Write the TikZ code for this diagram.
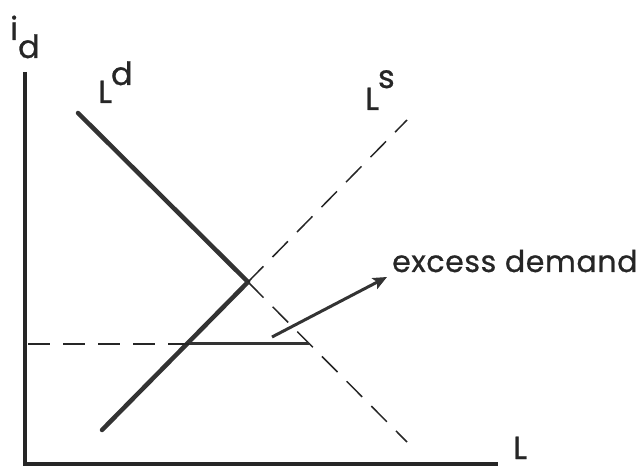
\documentclass[tikz,border=0pt]{standalone}
\usepackage{fontspec}
\setmainfont[FakeBold=0.8]{Poppins}
\usetikzlibrary{arrows.meta}
\begin{document}
\begin{tikzpicture}[x=1pt,y=-1pt,
  axis/.style={line width=4pt, draw=black!85},
  curve/.style={line width=4.5pt, line cap=round, draw=black!80},
  dashline/.style={line width=1.5pt, dash pattern=on 22pt off 13pt, draw=black!85},
  gapline/.style={line width=3pt, draw=black!80},
  arr/.style={line width=3pt, draw=black!80, -{Stealth[length=14pt,width=12pt,inset=3pt]}},
  lab/.style={font=\fontsize{32}{32}\selectfont, inner sep=0pt, text=black!85},
  sublab/.style={font=\fontsize{30}{30}\selectfont\addfontfeature{LetterSpace=2}, inner sep=0pt, text=black!85},
]
\useasboundingbox (0,0) rectangle (641,468);
\coordinate (ytop) at (25,72);
\coordinate (o) at (25,464);
\coordinate (xend) at (498,464);
\coordinate (ldtop) at (78,113);
\coordinate (k) at (248,282);
\coordinate (ldbot) at (407,442);
\coordinate (lsbot) at (102,430);
\coordinate (lstop) at (407,120);
\coordinate (hl) at (28,344);
\coordinate (hs) at (189,344);
\coordinate (he) at (309,344);
\coordinate (a1) at (272,337);
\coordinate (a2) at (387,277);
% axes
\draw[axis] (ytop) -- (o) -- (xend);
% demand and supply
\draw[curve] (ldtop) -- (k);
\draw[dashline] (k) -- (ldbot);
\draw[curve] (lsbot) -- (k);
\draw[dashline] (k) -- (lstop);
% rate line and gap
\draw[dashline] (hl) -- (hs);
\draw[gapline] (hs) -- (he);
\draw[arr] (a1) -- (a2);
% labels
\node[lab, anchor=base west] (id) at (10,40) {i\raisebox{-18pt}{d}};
\node[lab, anchor=base west] (ld) at (98,103) {L\kern-1pt\raisebox{18pt}{d}};
\node[lab, anchor=base west] (ls) at (365,110) {L\kern-1pt\raisebox{22pt}{s}};
\node[lab, anchor=base west] (lx) at (513,459) {L};
\node[sublab, anchor=base west] (ex) at (392,272) {excess demand};
\end{tikzpicture}
\end{document}
